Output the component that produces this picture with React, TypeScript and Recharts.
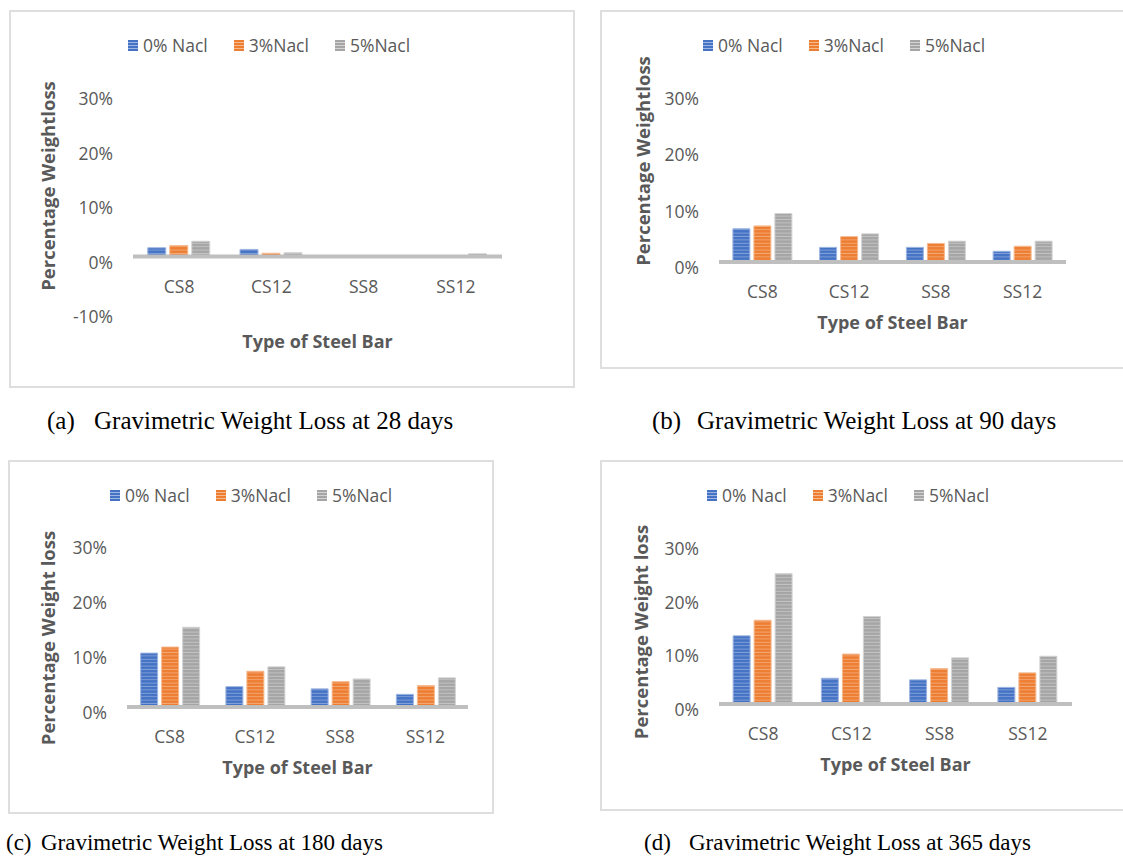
import React from 'react';
import { BarChart, Bar, XAxis, YAxis, ReferenceLine } from 'recharts';

// steel bar types and salt concentrations
const categories = ['CS8', 'CS12', 'SS8', 'SS12'];
const seriesNames = ['0% Nacl', '3%Nacl', '5%Nacl'];
const seriesColors = ['#4472C4', '#ED7D31', '#A5A5A5'];
const seriesEdges = ['#9DB5E0', '#F5B98E', '#D3D3D3'];

// percentage weight loss (%)
const day28Nacl0 = [1.6, 1.3, 0, 0];
const day28Nacl3 = [2.0, 0.6, 0, 0];
const day28Nacl5 = [2.8, 0.7, 0, 0.5];

const day90Nacl0 = [5.9, 2.6, 2.6, 1.9];
const day90Nacl3 = [6.4, 4.5, 3.3, 2.8];
const day90Nacl5 = [8.6, 5.0, 3.7, 3.7];

const day180Nacl0 = [9.8, 3.7, 3.3, 2.3];
const day180Nacl3 = [10.9, 6.5, 4.6, 3.9];
const day180Nacl5 = [14.5, 7.3, 5.1, 5.3];

const day365Nacl0 = [12.7, 4.8, 4.5, 3.1];
const day365Nacl3 = [15.6, 9.3, 6.6, 5.8];
const day365Nacl5 = [24.3, 16.3, 8.6, 8.9];

const ticksWithNegative = [-10, 0, 10, 20, 30];
const ticksPositive = [0, 10, 20, 30];

const FONT = '"Open Sans", "Noto Sans", sans-serif';
const TEXT = '#595959';

function buildRows(s0: number[], s1: number[], s2: number[]) {
  return categories.map((name, i) => ({ name, s0: s0[i], s1: s1[i], s2: s2[i] }));
}

const panels = [
  {
    id: 'a',
    rows: buildRows(day28Nacl0, day28Nacl3, day28Nacl5),
    box: { x: 9, y: 10, w: 566, h: 378 },
    plot: { l: 133, r: 502, t: 93, b: 311 },
    domain: [-10, 30],
    ticks: ticksWithNegative,
    yTitle: 'Percentage Weightloss',
    yTitlePos: [47, 186],
    xTitleY: 341,
    legend: [128, 45],
    caption: { label: '(a)', text: 'Gravimetric Weight Loss at 28 days', x: 47, x2: 94, y: 408, size: 25 },
  },
  {
    id: 'b',
    rows: buildRows(day90Nacl0, day90Nacl3, day90Nacl5),
    box: { x: 600, y: 10, w: 540, h: 359 },
    plot: { l: 719, r: 1066, t: 93, b: 262 },
    domain: [0, 30],
    ticks: ticksPositive,
    yTitle: 'Percentage Weightloss',
    yTitlePos: [642, 161],
    xTitleY: 322,
    legend: [703, 45],
    caption: { label: '(b)', text: 'Gravimetric Weight Loss at 90 days', x: 652, x2: 697, y: 408, size: 25 },
  },
  {
    id: 'c',
    rows: buildRows(day180Nacl0, day180Nacl3, day180Nacl5),
    box: { x: 8, y: 460, w: 486, h: 354 },
    plot: { l: 127, r: 468, t: 542, b: 707 },
    domain: [0, 30],
    ticks: ticksPositive,
    yTitle: 'Percentage Weight loss',
    yTitlePos: [47, 638],
    xTitleY: 767,
    legend: [110, 495],
    caption: { label: '(c)', text: 'Gravimetric Weight Loss at 180 days', x: 6, x2: 41, y: 831, size: 23 },
  },
  {
    id: 'd',
    rows: buildRows(day365Nacl0, day365Nacl3, day365Nacl5),
    box: { x: 600, y: 460, w: 540, h: 351 },
    plot: { l: 719, r: 1072, t: 543, b: 704 },
    domain: [0, 30],
    ticks: ticksPositive,
    yTitle: 'Percentage Weight loss',
    yTitlePos: [640, 632],
    xTitleY: 764,
    legend: [707, 495],
    caption: { label: '(d)', text: 'Gravimetric Weight Loss at 365 days', x: 644, x2: 689, y: 831, size: 23 },
  },
];

type Panel = (typeof panels)[number];

function YTick(props: any) {
  const { x, y, payload } = props;
  return (
    <text x={x} y={y + 5} textAnchor="end" dominantBaseline="central" fill={TEXT} fontSize={17.5} fontFamily={FONT}>
      {payload.value}%
    </text>
  );
}

function makeXTick(dy: number) {
  return (props: any) => (
    <text x={props.x} y={props.y + dy} textAnchor="middle" dominantBaseline="central" fill={TEXT} fontSize={17.5} fontFamily={FONT}>
      {props.payload.value}
    </text>
  );
}

function LegendRow({ p }: { p: Panel }) {
  return (
    <div
      style={{
        position: 'absolute',
        left: p.legend[0],
        top: p.legend[1] - 10,
        height: 20,
        display: 'flex',
        alignItems: 'center',
        fontFamily: FONT,
        fontSize: 17.5,
        color: TEXT,
        whiteSpace: 'nowrap',
      }}
    >
      {seriesNames.map((name, i) => (
        <div key={name} style={{ display: 'flex', alignItems: 'center', marginRight: 26 }}>
          <span
            style={{
              display: 'inline-block',
              width: 10,
              height: 11,
              marginRight: 5,
              background: `repeating-linear-gradient(to bottom, ${seriesColors[i]} 0px, ${seriesColors[i]} 2px, ${seriesEdges[i]} 2px, ${seriesEdges[i]} 3px)`,
            }}
          />
          <span style={{ lineHeight: '20px' }}>{name}</span>
        </div>
      ))}
    </div>
  );
}

function PanelChart({ p }: { p: Panel }) {
  const { box, plot } = p;
  const [min, max] = p.domain;
  const zeroY = plot.b - ((0 - min) / (max - min)) * (plot.b - plot.t);
  const xTickDy = zeroY - plot.b + 29;
  const XTick = makeXTick(xTickDy);

  const yTitleX = p.yTitlePos[0] - box.x;
  const yTitleY = p.yTitlePos[1] - box.y;
  const xTitleX = (plot.l + plot.r) / 2 - box.x;
  const xTitleY = p.xTitleY - box.y;

  return (
    <>
      <div
        style={{
          position: 'absolute',
          left: box.x,
          top: box.y,
          width: box.w,
          height: box.h,
          boxSizing: 'border-box',
          border: '2px solid #DEDEDE',
        }}
      />
      <div style={{ position: 'absolute', left: box.x, top: box.y }}>
        <BarChart
          width={box.w}
          height={box.h}
          data={p.rows}
          margin={{ top: plot.t - box.y, right: box.x + box.w - plot.r, bottom: 0, left: 0 }}
          barCategoryGap="16%"
          barGap={4}
        >
          <defs>
            {seriesColors.map((c, i) => (
              <pattern key={c} id={`stripe-${p.id}-${i}`} patternUnits="userSpaceOnUse" width={8} height={3.4}>
                <rect width={8} height={3.4} fill={c} />
                <rect y={1.6} width={8} height={0.9} fill="#ffffff" fillOpacity={0.35} />
              </pattern>
            ))}
          </defs>
          <XAxis
            dataKey="name"
            axisLine={false}
            tickLine={false}
            tickSize={0}
            tickMargin={0}
            height={box.y + box.h - plot.b}
            tick={XTick}
            interval={0}
            label={() => (
              <text x={xTitleX} y={xTitleY} textAnchor="middle" dominantBaseline="central" fill={TEXT} fontSize={18} fontWeight="bold" fontFamily={FONT}>
                Type of Steel Bar
              </text>
            )}
          />
          <YAxis
            domain={p.domain}
            ticks={p.ticks}
            allowDataOverflow
            axisLine={false}
            tickLine={false}
            tickSize={0}
            tickMargin={20}
            width={plot.l - box.x}
            tick={YTick}
            interval={0}
            label={() => (
              <text
                x={yTitleX}
                y={yTitleY}
                transform={`rotate(-90, ${yTitleX}, ${yTitleY})`}
                textAnchor="middle"
                dominantBaseline="central"
                fill={TEXT}
                fontSize={18.5}
                fontWeight="bold"
                fontFamily={FONT}
              >
                {p.yTitle}
              </text>
            )}
          />
          {seriesNames.map((name, i) => (
            <Bar
              key={name}
              dataKey={`s${i}`}
              name={name}
              fill={`url(#stripe-${p.id}-${i})`}
              stroke={seriesEdges[i]}
              strokeWidth={1}
              isAnimationActive={false}
            />
          ))}
          <ReferenceLine y={0} stroke="#BFBFBF" strokeWidth={4} ifOverflow="extendDomain" />
        </BarChart>
      </div>
      <LegendRow p={p} />
      <div
        style={{
          position: 'absolute',
          top: p.caption.y,
          left: 0,
          fontFamily: '"Liberation Serif", "Times New Roman", serif',
          fontSize: p.caption.size,
          lineHeight: 1,
          color: '#000',
          whiteSpace: 'nowrap',
        }}
      >
        <span style={{ position: 'absolute', left: p.caption.x }}>{p.caption.label}</span>
        <span style={{ position: 'absolute', left: p.caption.x2 }}>{p.caption.text}</span>
      </div>
    </>
  );
}

export default function App() {
  return (
    <div
      style={{
        position: 'absolute',
        left: 0,
        top: 0,
        width: 1123,
        height: 863,
        background: '#ffffff',
        overflow: 'hidden',
      }}
    >
      {panels.map((p) => (
        <PanelChart key={p.id} p={p} />
      ))}
    </div>
  );
}
